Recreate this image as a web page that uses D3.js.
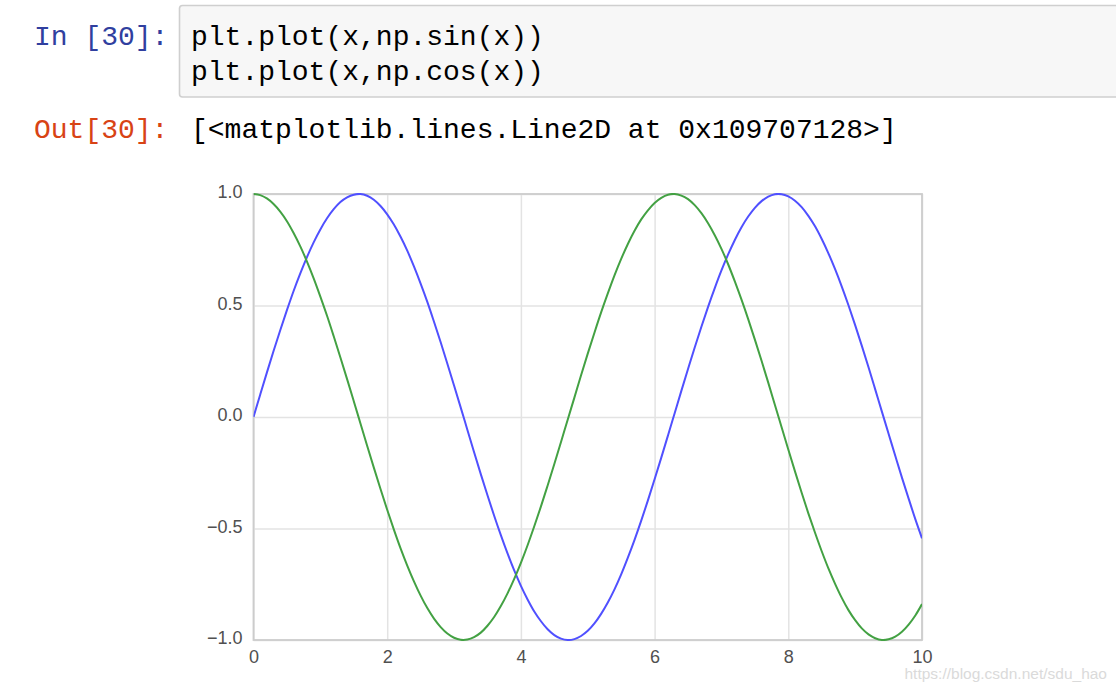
<!DOCTYPE html>
<html>
<head>
<meta charset="utf-8">
<script src="https://cdn.jsdelivr.net/npm/d3@7"></script>
<style>
  html, body { margin: 0; padding: 0; background: #fff; }
  svg { display: block; }
</style>
</head>
<body>
<svg id="chart" width="1116" height="690"></svg>
<script>
// ---- data ----
const xValues = [0.0,0.1,0.2,0.3,0.4,0.5,0.6,0.7,0.8,0.9,
  1.0,1.1,1.2,1.3,1.4,1.5,1.6,1.7,1.8,1.9,
  2.0,2.1,2.2,2.3,2.4,2.5,2.6,2.7,2.8,2.9,
  3.0,3.1,3.2,3.3,3.4,3.5,3.6,3.7,3.8,3.9,
  4.0,4.1,4.2,4.3,4.4,4.5,4.6,4.7,4.8,4.9,
  5.0,5.1,5.2,5.3,5.4,5.5,5.6,5.7,5.8,5.9,
  6.0,6.1,6.2,6.3,6.4,6.5,6.6,6.7,6.8,6.9,
  7.0,7.1,7.2,7.3,7.4,7.5,7.6,7.7,7.8,7.9,
  8.0,8.1,8.2,8.3,8.4,8.5,8.6,8.7,8.8,8.9,
  9.0,9.1,9.2,9.3,9.4,9.5,9.6,9.7,9.8,9.9,10.0];
const sinValues = [0.000,0.100,0.199,0.296,0.389,0.479,0.565,0.644,0.717,0.783,
  0.841,0.891,0.932,0.964,0.985,0.997,1.000,0.992,0.974,0.946,
  0.909,0.863,0.808,0.746,0.675,0.598,0.516,0.427,0.335,0.239,
  0.141,0.042,-0.058,-0.158,-0.256,-0.351,-0.443,-0.530,-0.612,-0.688,
  -0.757,-0.818,-0.872,-0.916,-0.952,-0.978,-0.994,-1.000,-0.996,-0.982,
  -0.959,-0.926,-0.883,-0.832,-0.773,-0.706,-0.631,-0.551,-0.465,-0.374,
  -0.279,-0.182,-0.083,0.017,0.117,0.215,0.312,0.405,0.494,0.578,
  0.657,0.729,0.794,0.851,0.899,0.938,0.968,0.988,0.999,0.999,
  0.989,0.970,0.941,0.902,0.855,0.798,0.734,0.663,0.585,0.501,
  0.412,0.319,0.223,0.124,0.024,-0.075,-0.174,-0.272,-0.366,-0.458,-0.544];
const cosValues = [1.000,0.995,0.980,0.955,0.921,0.878,0.825,0.765,0.697,0.622,
  0.540,0.454,0.362,0.267,0.170,0.071,-0.029,-0.129,-0.227,-0.323,
  -0.416,-0.505,-0.589,-0.666,-0.737,-0.801,-0.857,-0.904,-0.942,-0.971,
  -0.990,-0.999,-0.998,-0.987,-0.967,-0.936,-0.897,-0.848,-0.791,-0.726,
  -0.654,-0.575,-0.490,-0.401,-0.307,-0.211,-0.112,-0.012,0.087,0.187,
  0.284,0.378,0.469,0.554,0.635,0.709,0.776,0.835,0.886,0.927,
  0.960,0.983,0.997,1.000,0.993,0.977,0.950,0.914,0.869,0.815,
  0.754,0.685,0.608,0.526,0.439,0.347,0.252,0.154,0.054,-0.046,
  -0.146,-0.244,-0.340,-0.432,-0.519,-0.602,-0.679,-0.748,-0.811,-0.866,
  -0.911,-0.948,-0.975,-0.992,-1.000,-0.997,-0.985,-0.963,-0.931,-0.890,-0.839];
const xTicks = [0,2,4,6,8,10];
const yTicks = [-1.0,-0.5,0.0,0.5,1.0];
const inPrompt = "In [30]:";
const codeLines = ["plt.plot(x,np.sin(x))", "plt.plot(x,np.cos(x))"];
const outPrompt = "Out[30]:";
const outText = "[<matplotlib.lines.Line2D at 0x109707128>]";
const watermark = "https://blog.csdn.net/sdu_hao";

(function () {
const svg = d3.select("#chart");
const mono = "'Liberation Mono', 'DejaVu Sans Mono', monospace";
const sans = "'Liberation Sans', Arial, Helvetica, sans-serif";

// ---- notebook cell ----
svg.append("rect")
  .attr("x", 179.5).attr("y", 5.5)
  .attr("width", 1000).attr("height", 91.5)
  .attr("rx", 3)
  .attr("fill", "#f7f7f7")
  .attr("stroke", "#cfcfcf")
  .attr("stroke-width", 1.6);

svg.append("text")
  .attr("x", 34).attr("y", 45)
  .attr("font-family", mono).attr("font-size", 28)
  .attr("fill", "#303F9F")
  .text(inPrompt);

svg.selectAll("text.code").data(codeLines).join("text")
  .attr("class", "code")
  .attr("x", 191).attr("y", (d, i) => 45 + i * 35)
  .attr("font-family", mono).attr("font-size", 28)
  .attr("fill", "#000")
  .text(d => d);

svg.append("text")
  .attr("x", 34).attr("y", 138)
  .attr("font-family", mono).attr("font-size", 28)
  .attr("fill", "#D84315")
  .text(outPrompt);

svg.append("text")
  .attr("x", 191).attr("y", 138)
  .attr("font-family", mono).attr("font-size", 28)
  .attr("fill", "#000")
  .text(outText);

// ---- plot ----
const pLeft = 253.5, pRight = 922, pTop = 194, pBottom = 640;
const x = d3.scaleLinear().domain([0, 10]).range([pLeft, pRight]);
const y = d3.scaleLinear().domain([-1, 1]).range([pBottom, pTop]);

// grid + tick labels
const gx = svg.append("g")
  .attr("transform", `translate(0,${pBottom})`)
  .call(d3.axisBottom(x).tickValues(xTicks).tickSize(-(pBottom - pTop)).tickFormat(d3.format("d")).tickPadding(10));
gx.select(".domain").remove();
gx.selectAll(".tick line").attr("stroke", "#e3e3e3").attr("stroke-width", 1.5);
gx.selectAll(".tick text")
  .attr("font-family", sans).attr("font-size", 18).attr("fill", "#505050");

const gy = svg.append("g")
  .attr("transform", `translate(${pLeft},0)`)
  .call(d3.axisLeft(y).tickValues(yTicks).tickSize(-(pRight - pLeft)).tickFormat(d3.format(".1f")).tickPadding(11));
gy.select(".domain").remove();
gy.selectAll(".tick line").attr("stroke", "#e3e3e3").attr("stroke-width", 1.5);
gy.selectAll(".tick text")
  .attr("font-family", sans).attr("font-size", 18).attr("fill", "#505050")
  .attr("dy", "0.22em");

// frame
svg.append("rect")
  .attr("x", pLeft).attr("y", pTop)
  .attr("width", pRight - pLeft).attr("height", pBottom - pTop)
  .attr("fill", "none").attr("stroke", "#cccccc").attr("stroke-width", 1.8);

// clip
svg.append("clipPath").attr("id", "clip")
  .append("rect").attr("x", pLeft).attr("y", pTop - 1)
  .attr("width", pRight - pLeft).attr("height", pBottom - pTop + 2);

const line = d3.line().x(d => x(d[0])).y(d => y(d[1])).curve(d3.curveCatmullRom.alpha(0.5));
const series = [
  { values: sinValues, color: "#5050ff" },
  { values: cosValues, color: "#43a143" }
];
svg.append("g").attr("clip-path", "url(#clip)")
  .selectAll("path").data(series).join("path")
  .attr("d", s => line(xValues.map((xv, i) => [xv, s.values[i]])))
  .attr("fill", "none")
  .attr("stroke", s => s.color)
  .attr("stroke-width", 2);

// watermark
svg.append("text")
  .attr("x", 1107).attr("y", 679)
  .attr("text-anchor", "end")
  .attr("font-family", sans).attr("font-size", 15.5)
  .attr("fill", "#dadada")
  .text(watermark);
})();
</script>
</body>
</html>
